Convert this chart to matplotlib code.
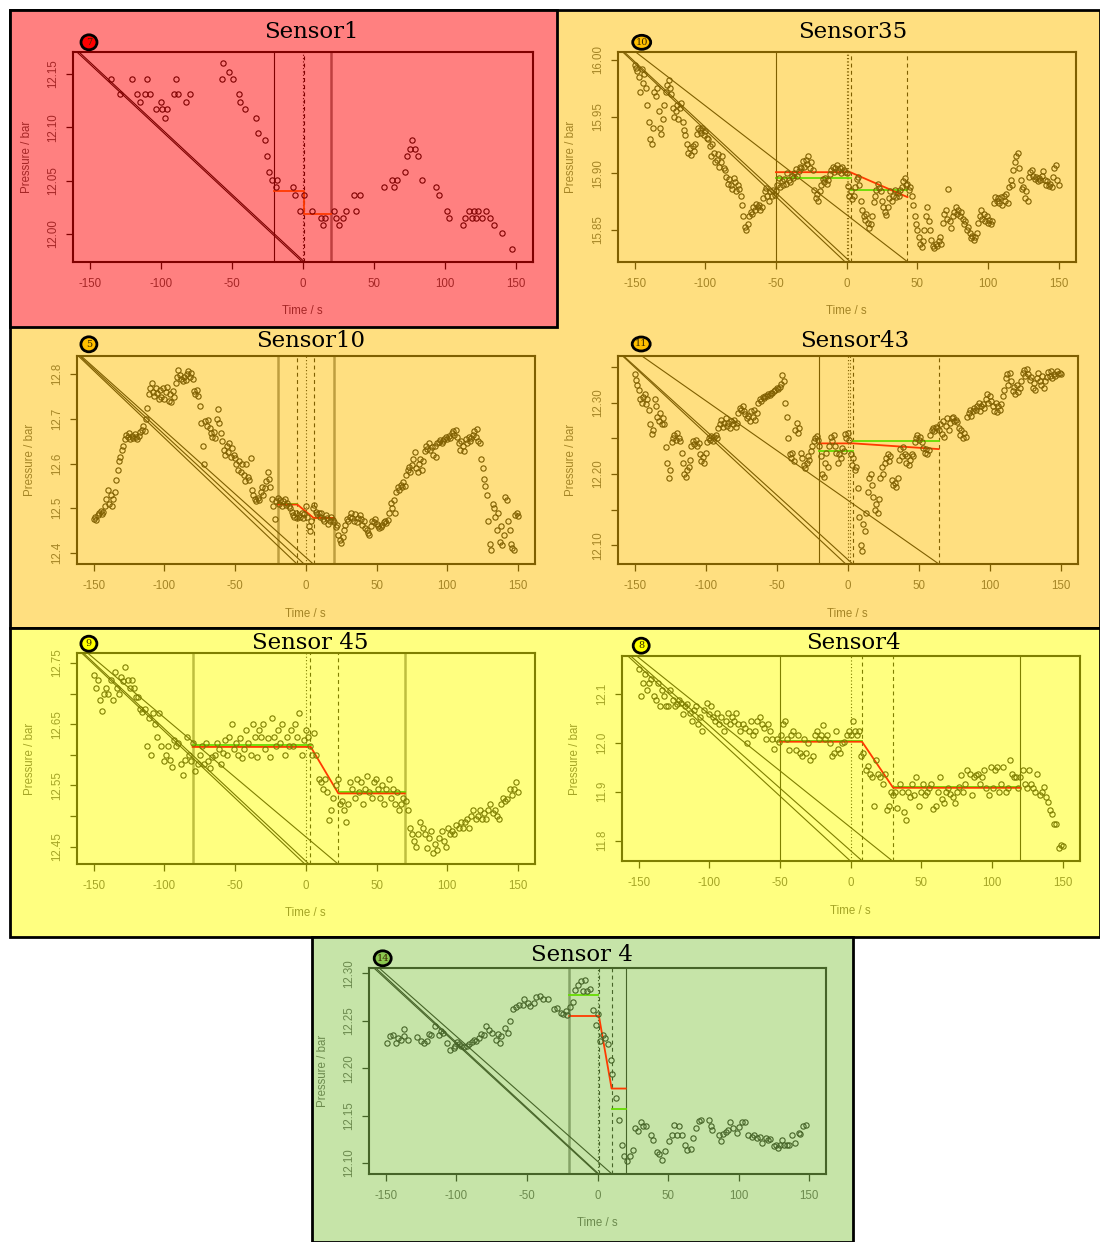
import numpy as np
import matplotlib.pyplot as plt
from matplotlib.colors import to_rgba
from matplotlib.patches import Rectangle, Ellipse

plt.rcParams['font.family'] = ['Liberation Sans', 'DejaVu Sans']

W, H = 1100, 1242
TICKS_X = [-150, -100, -50, 0, 50, 100, 150]

# ---------------- Sensor1 (station 7) ----------------
s1_t = [-135.1, -128.9, -120.2, -116.8, -114.8, -110.9, -109.9, -107.9, -103.5, -100.2,
        -99.0, -97.0, -95.8, -90.6, -89.6, -87.7, -82.0, -79.3, -57.3, -56.3,
        -51.9, -49.4, -44.9, -44.0, -40.5, -33.3, -31.9, -26.4, -24.9, -23.5,
        -21.5, -18.0, -19.0, -6.7, -5.7, 1.0, -1.7, 6.2, 13.1, 15.8,
        14.3, 21.7, 23.7, 25.2, 28.1, 30.6, 36.0, 37.5, 40.0, 57.0,
        63.0, 64.4, 66.4, 72.3, 73.3, 75.8, 76.8, 78.8, 81.2, 83.7,
        93.8, 96.3, 101.5, 103.0, 112.6, 114.6, 117.5, 119.0, 120.5, 122.0,
        123.5, 126.4, 129.4, 131.9, 135.1, 140.5, 147.4]
s1_p = [12.145, 12.131, 12.145, 12.131, 12.124, 12.131, 12.145, 12.131, 12.117, 12.124,
        12.117, 12.109, 12.117, 12.131, 12.145, 12.131, 12.124, 12.131, 12.145, 12.160,
        12.152, 12.145, 12.131, 12.124, 12.117, 12.109, 12.095, 12.088, 12.073, 12.058,
        12.051, 12.051, 12.044, 12.044, 12.037, 12.037, 12.022, 12.022, 12.015, 12.015,
        12.008, 12.022, 12.015, 12.008, 12.015, 12.022, 12.037, 12.022, 12.037, 12.044,
        12.051, 12.044, 12.051, 12.058, 12.073, 12.080, 12.088, 12.080, 12.073, 12.051,
        12.044, 12.037, 12.022, 12.015, 12.008, 12.015, 12.022, 12.015, 12.022, 12.015,
        12.022, 12.015, 12.022, 12.015, 12.008, 12.001, 11.986]
s1_marks = [(-20, 'solid'), (0, 'dot'), (1, 'dash'), (20, 'wide')]
s1_guides = [(-159.5, -0.5), (-158, 1)]
s1_red_t = [-20, 0.7, 0.7, 20]
s1_red_p = [12.040, 12.040, 12.019, 12.019]
s1_green = []

# ---------------- Sensor35 (station 10), 1 s sampling ----------------
s35_p = [15.996, 15.993, 15.990, 15.985, 15.972, 15.992, 15.980, 15.988, 15.975, 15.960,
         15.945, 15.930, 15.926, 15.940, 15.972, 15.968, 15.975, 15.955, 15.940, 15.935,
         15.948, 15.960, 15.972, 15.978, 15.982, 15.975, 15.970, 15.958, 15.950, 15.955,
         15.960, 15.948, 15.958, 15.962, 15.945, 15.938, 15.934, 15.926, 15.918, 15.922,
         15.916, 15.924, 15.920, 15.926, 15.935, 15.940, 15.938, 15.936, 15.940, 15.934,
         15.937, 15.931, 15.930, 15.924, 15.915, 15.926, 15.918, 15.910, 15.912, 15.917,
         15.906, 15.910, 15.915, 15.905, 15.903, 15.897, 15.891, 15.895, 15.890, 15.886,
         15.896, 15.892, 15.884, 15.890, 15.886, 15.880, 15.872, 15.862, 15.853, 15.850,
         15.855, 15.862, 15.866, 15.864, 15.870, 15.868, 15.873, 15.870, 15.872, 15.868,
         15.870, 15.878, 15.884, 15.887, 15.880, 15.876, 15.884, 15.880, 15.885, 15.881,
         15.884, 15.890, 15.896, 15.888, 15.893, 15.890, 15.895, 15.891, 15.900, 15.894,
         15.892, 15.898, 15.896, 15.900, 15.904, 15.898, 15.902, 15.906, 15.905, 15.911,
         15.906, 15.912, 15.908, 15.915, 15.905, 15.910, 15.903, 15.885, 15.878, 15.882,
         15.876, 15.884, 15.890, 15.895, 15.892, 15.896, 15.891, 15.894, 15.899, 15.903,
         15.906, 15.901, 15.905, 15.907, 15.902, 15.905, 15.900, 15.906, 15.903, 15.901,
         15.900, 15.889, 15.880, 15.884, 15.877, 15.880, 15.888, 15.895, 15.897, 15.890,
         15.876, 15.868, 15.862, 15.859, 15.864, 15.856, 15.852, 15.855, 15.862, 15.875,
         15.880, 15.885, 15.891, 15.887, 15.884, 15.876, 15.870, 15.866, 15.863, 15.870,
         15.878, 15.884, 15.876, 15.880, 15.885, 15.879, 15.883, 15.880, 15.885, 15.888,
         15.893, 15.896, 15.890, 15.891, 15.885, 15.888, 15.880, 15.872, 15.862, 15.855,
         15.850, 15.844, 15.838, 15.835, 15.840, 15.850, 15.862, 15.870, 15.858, 15.850,
         15.841, 15.836, 15.834, 15.838, 15.836, 15.840, 15.844, 15.838, 15.856, 15.864,
         15.868, 15.860, 15.886, 15.858, 15.852, 15.862, 15.866, 15.870, 15.864, 15.868,
         15.862, 15.866, 15.860, 15.855, 15.858, 15.850, 15.853, 15.847, 15.843, 15.845,
         15.841, 15.844, 15.847, 15.856, 15.862, 15.868, 15.860, 15.864, 15.858, 15.862,
         15.856, 15.859, 15.855, 15.858, 15.874, 15.879, 15.876, 15.878, 15.874, 15.879,
         15.872, 15.880, 15.876, 15.882, 15.874, 15.888, 15.894, 15.890, 15.903, 15.910,
         15.915, 15.918, 15.905, 15.894, 15.886, 15.888, 15.878, 15.884, 15.876, 15.897,
         15.901, 15.903, 15.898, 15.895, 15.897, 15.893, 15.896, 15.894, 15.898, 15.902,
         15.894, 15.890, 15.893, 15.889, 15.891, 15.888, 15.897, 15.905, 15.907, 15.894,
         15.890]
s35_t = np.linspace(-150, 150, len(s35_p))
s35_marks = [(-50, 'solid'), (0, 'dot'), (0.7, 'dot'), (3, 'dash'), (43, 'dash')]
s35_guides = [(-158.6, -1.2), (-157.5, 2.5), (-149.5, 43)]
s35_red_t = [-50, 2.5, 43]
s35_red_p = [15.901, 15.901, 15.879]
s35_green = [(-50, 3, 15.896), (3, 43, 15.885)]

# ---------------- Sensor10 (station 5), 1 s sampling ----------------
s10_p = [12.476, 12.480, 12.474, 12.485, 12.488, 12.494, 12.486, 12.492, 12.505, 12.520,
         12.540, 12.510, 12.530, 12.504, 12.520, 12.536, 12.562, 12.585, 12.605, 12.615,
         12.630, 12.640, 12.655, 12.665, 12.660, 12.668, 12.655, 12.662, 12.658, 12.666,
         12.660, 12.654, 12.662, 12.670, 12.676, 12.684, 12.672, 12.700, 12.725, 12.755,
         12.770, 12.780, 12.760, 12.752, 12.770, 12.758, 12.745, 12.765, 12.750, 12.770,
         12.745, 12.760, 12.772, 12.740, 12.755, 12.738, 12.762, 12.748, 12.780, 12.795,
         12.810, 12.798, 12.790, 12.785, 12.795, 12.788, 12.800, 12.808, 12.795, 12.802,
         12.790, 12.762, 12.755, 12.765, 12.752, 12.730, 12.690, 12.640, 12.600, 12.695,
         12.685, 12.698, 12.680, 12.668, 12.660, 12.670, 12.658, 12.700, 12.722, 12.690,
         12.668, 12.650, 12.630, 12.618, 12.640, 12.625, 12.645, 12.615, 12.635, 12.620,
         12.612, 12.600, 12.585, 12.605, 12.580, 12.598, 12.575, 12.560, 12.600, 12.570,
         12.562, 12.612, 12.540, 12.530, 12.520, 12.516, 12.522, 12.518, 12.535, 12.548,
         12.530, 12.545, 12.560, 12.582, 12.565, 12.548, 12.520, 12.505, 12.475, 12.515,
         12.522, 12.510, 12.518, 12.505, 12.515, 12.520, 12.508, 12.512, 12.504, 12.500,
         12.492, 12.485, 12.480, 12.490, 12.478, 12.485, 12.480, 12.490, 12.478, 12.486,
         12.505, 12.480, 12.460, 12.448, 12.470, 12.500, 12.506, 12.492, 12.486, 12.488,
         12.480, 12.490, 12.475, 12.470, 12.485, 12.478, 12.465, 12.472, 12.480, 12.474,
         12.468, 12.458, 12.462, 12.440, 12.428, 12.422, 12.435, 12.450, 12.462, 12.475,
         12.470, 12.480, 12.490, 12.478, 12.472, 12.486, 12.468, 12.478, 12.484, 12.475,
         12.462, 12.470, 12.455, 12.450, 12.444, 12.440, 12.460, 12.472, 12.468, 12.476,
         12.465, 12.460, 12.456, 12.458, 12.462, 12.468, 12.472, 12.466, 12.474, 12.490,
         12.512, 12.500, 12.518, 12.490, 12.535, 12.548, 12.540, 12.552, 12.548, 12.558,
         12.550, 12.575, 12.585, 12.592, 12.580, 12.597, 12.610, 12.625, 12.590, 12.580,
         12.598, 12.610, 12.585, 12.605, 12.628, 12.640, 12.632, 12.645, 12.630, 12.638,
         12.620, 12.640, 12.615, 12.645, 12.648, 12.652, 12.645, 12.650, 12.655, 12.660,
         12.655, 12.662, 12.658, 12.668, 12.672, 12.665, 12.674, 12.660, 12.645, 12.630,
         12.650, 12.640, 12.628, 12.655, 12.645, 12.660, 12.650, 12.658, 12.665, 12.672,
         12.660, 12.678, 12.650, 12.645, 12.610, 12.590, 12.565, 12.550, 12.530, 12.470,
         12.420, 12.405, 12.510, 12.500, 12.480, 12.450, 12.490, 12.425, 12.460, 12.418,
         12.440, 12.525, 12.518, 12.470, 12.450, 12.420, 12.410, 12.405, 12.485, 12.490,
         12.482]
s10_t = np.linspace(-150, 150, len(s10_p))
s10_marks = [(-20, 'wide'), (-6, 'dash'), (0, 'dot'), (5.5, 'dash'), (20, 'wide')]
s10_guides = [(-161, -6), (-160, -1), (-159, 5.5)]
s10_red_t = [-20, -6, 5.5, 20]
s10_red_p = [12.508, 12.508, 12.478, 12.478]
s10_green = [(-20, -6, 12.509), (5.5, 20, 12.477)]

# ---------------- Sensor43 (station 11), 1 s sampling ----------------
s43_p = [12.340, 12.332, 12.325, 12.318, 12.305, 12.300, 12.308, 12.312, 12.298, 12.305,
         12.290, 12.270, 12.256, 12.262, 12.305, 12.295, 12.280, 12.275, 12.285, 12.270,
         12.278, 12.270, 12.238, 12.215, 12.195, 12.205, 12.245, 12.250, 12.255, 12.248,
         12.258, 12.250, 12.246, 12.230, 12.215, 12.200, 12.196, 12.205, 12.210, 12.220,
         12.240, 12.246, 12.242, 12.248, 12.240, 12.244, 12.228, 12.218, 12.224, 12.215,
         12.230, 12.245, 12.250, 12.248, 12.254, 12.246, 12.252, 12.255, 12.250, 12.265,
         12.270, 12.276, 12.266, 12.272, 12.278, 12.268, 12.272, 12.265, 12.275, 12.270,
         12.276, 12.266, 12.272, 12.285, 12.292, 12.290, 12.296, 12.288, 12.284, 12.278,
         12.282, 12.275, 12.288, 12.280, 12.290, 12.276, 12.285, 12.300, 12.305, 12.303,
         12.308, 12.306, 12.310, 12.309, 12.312, 12.311, 12.314, 12.313, 12.316, 12.318,
         12.320, 12.319, 12.322, 12.326, 12.339, 12.330, 12.300, 12.280, 12.250, 12.228,
         12.222, 12.230, 12.218, 12.262, 12.272, 12.258, 12.265, 12.230, 12.222, 12.212,
         12.208, 12.215, 12.225, 12.220, 12.232, 12.240, 12.246, 12.250, 12.254, 12.248,
         12.240, 12.225, 12.200, 12.196, 12.215, 12.230, 12.210, 12.240, 12.252, 12.246,
         12.255, 12.240, 12.230, 12.215, 12.228, 12.222, 12.236, 12.232, 12.256, 12.250,
         12.258, 12.248, 12.228, 12.212, 12.222, 12.205, 12.210, 12.180, 12.140, 12.100,
         12.092, 12.130, 12.120, 12.145, 12.175, 12.195, 12.200, 12.185, 12.168, 12.150,
         12.158, 12.145, 12.165, 12.195, 12.210, 12.200, 12.215, 12.222, 12.228, 12.218,
         12.226, 12.192, 12.185, 12.188, 12.182, 12.194, 12.220, 12.235, 12.225, 12.238,
         12.228, 12.215, 12.225, 12.212, 12.220, 12.228, 12.226, 12.245, 12.250, 12.255,
         12.248, 12.252, 12.245, 12.236, 12.230, 12.235, 12.228, 12.234, 12.255, 12.262,
         12.264, 12.260, 12.266, 12.265, 12.262, 12.270, 12.256, 12.275, 12.252, 12.268,
         12.278, 12.262, 12.272, 12.278, 12.280, 12.275, 12.276, 12.273, 12.265, 12.255,
         12.262, 12.250, 12.258, 12.252, 12.280, 12.285, 12.290, 12.282, 12.288, 12.292,
         12.290, 12.296, 12.300, 12.288, 12.295, 12.298, 12.292, 12.305, 12.312, 12.300,
         12.310, 12.302, 12.295, 12.288, 12.300, 12.287, 12.295, 12.290, 12.298, 12.310,
         12.318, 12.335, 12.340, 12.325, 12.342, 12.330, 12.316, 12.322, 12.312, 12.325,
         12.315, 12.320, 12.330, 12.342, 12.346, 12.338, 12.348, 12.340, 12.332, 12.336,
         12.320, 12.328, 12.318, 12.335, 12.342, 12.330, 12.325, 12.338, 12.320, 12.330,
         12.336, 12.343, 12.338, 12.345, 12.335, 12.340, 12.338, 12.344, 12.340, 12.342,
         12.340]
s43_t = np.linspace(-150, 150, len(s43_p))
s43_marks = [(-20, 'solid'), (0, 'dot'), (1.5, 'dot'), (4, 'dash'), (64, 'dash')]
s43_guides = [(-158.7, -1.2), (-158, 3.7), (-145.2, 64.4)]
s43_red_t = [-20, 4, 64]
s43_red_p = [12.243, 12.243, 12.235]
s43_green = [(-20, 4, 12.232), (4, 64, 12.2467)]

# ---------------- Sensor 45 (station 9), 1.5 s sampling ----------------
s45_p = [12.730, 12.710, 12.722, 12.690, 12.672, 12.700, 12.710, 12.700,
         12.722, 12.690, 12.735, 12.710, 12.700, 12.728, 12.720, 12.744, 12.722, 12.710,
         12.722, 12.709, 12.695, 12.695, 12.675, 12.670, 12.675,
         12.615, 12.660, 12.600, 12.668, 12.650, 12.630, 12.668, 12.615, 12.590,
         12.600, 12.615, 12.592, 12.580, 12.625, 12.615, 12.620, 12.585, 12.567, 12.592,
         12.630, 12.600, 12.590, 12.620, 12.573, 12.585, 12.600, 12.615, 12.585, 12.620,
         12.590, 12.578, 12.596, 12.600, 12.620, 12.610, 12.585, 12.603, 12.625, 12.600,
         12.630, 12.650, 12.610, 12.620, 12.600, 12.628, 12.595, 12.610, 12.640, 12.620,
         12.600, 12.650, 12.630, 12.596, 12.640, 12.630, 12.650, 12.610, 12.628, 12.596,
         12.660, 12.630, 12.615, 12.640, 12.620, 12.650, 12.600, 12.630, 12.615, 12.640,
         12.615, 12.650, 12.630, 12.668, 12.600, 12.625, 12.640, 12.630, 12.615, 12.600,
         12.635, 12.600, 12.560, 12.555, 12.545, 12.560, 12.540, 12.493, 12.510, 12.530,
         12.550, 12.560, 12.520, 12.525, 12.510, 12.490, 12.520, 12.555, 12.545, 12.530,
         12.560, 12.540, 12.555, 12.520, 12.545, 12.565, 12.540, 12.530, 12.555, 12.560,
         12.545, 12.530, 12.550, 12.520, 12.545, 12.560, 12.530, 12.545, 12.520, 12.540,
         12.510, 12.520, 12.530, 12.525, 12.510, 12.480, 12.470, 12.460, 12.450, 12.470,
         12.490, 12.480, 12.470, 12.448, 12.465, 12.475, 12.440, 12.455, 12.445, 12.465,
         12.475, 12.460, 12.450, 12.480, 12.470, 12.475, 12.470, 12.485, 12.480, 12.490,
         12.480, 12.490, 12.495, 12.480, 12.500, 12.510, 12.495, 12.500, 12.510, 12.496,
         12.505, 12.496, 12.510, 12.520, 12.505, 12.510, 12.500, 12.496, 12.520, 12.530,
         12.525, 12.528, 12.545, 12.535, 12.545, 12.555, 12.540]
s45_t = np.linspace(-150, 150, len(s45_p))
s45_marks = [(-80, 'wide'), (0, 'dot'), (3, 'dash'), (23, 'dash'), (70, 'wide')]
s45_guides = [(-158.2, -0.7), (-157, 2.2), (-154, 22.8)]
s45_red_t = [-80, 3.5, 23, 70]
s45_red_p = [12.613, 12.613, 12.537, 12.537]
s45_green = [(-80, 3.5, 12.616), (23, 70, 12.540)]

# ---------------- Sensor4 (station 8), 1.5 s sampling ----------------
s4_p = [12.150, 12.095, 12.122, 12.140, 12.108, 12.122, 12.130, 12.095,
        12.088, 12.122, 12.074, 12.108, 12.095, 12.074, 12.074, 12.108, 12.088, 12.074,
        12.080, 12.088, 12.081, 12.058, 12.074, 12.080, 12.060,
        12.045, 12.066, 12.074, 12.038, 12.052, 12.023, 12.066, 12.081, 12.058,
        12.074, 12.052, 12.045, 12.060, 12.038, 12.052, 12.023, 12.045, 12.060, 12.038,
        12.052, 12.045, 12.060, 12.038, 12.023, 12.038, 12.030, 12.000, 12.023, 12.045,
        12.015, 12.023, 12.045, 12.052, 12.038, 12.030, 12.008, 12.038, 12.023, 12.008,
        11.987, 12.008, 12.001, 12.015, 12.038, 12.045, 12.008, 11.985, 12.015, 12.023,
        11.985, 12.015, 11.980, 11.972, 12.008, 11.980, 12.000, 11.965, 11.972, 12.015,
        12.023, 12.008, 12.015, 12.037, 12.008, 12.015, 12.000, 11.972, 11.980, 12.023,
        11.987, 11.980, 12.000, 12.001, 12.015, 12.023, 12.015, 12.045, 12.023, 12.015,
        12.023, 11.972, 11.980, 11.945, 11.952, 11.937, 11.930, 11.870, 11.965, 11.937,
        11.930, 11.915, 11.937, 11.863, 11.870, 11.900, 11.893, 11.900, 11.866, 11.915,
        11.900, 11.858, 11.843, 11.900, 11.890, 11.915, 11.893, 11.930, 11.870, 11.900,
        11.915, 11.893, 11.900, 11.908, 11.915, 11.865, 11.870, 11.900, 11.930, 11.885,
        11.878, 11.900, 11.908, 11.895, 11.890, 11.878, 11.900, 11.910, 11.935, 11.900,
        11.915, 11.945, 11.937, 11.893, 11.930, 11.935, 11.937, 11.915, 11.930, 11.945,
        11.908, 11.893, 11.950, 11.908, 11.945, 11.950, 11.900, 11.915, 11.950, 11.900,
        11.908, 11.965, 11.937, 11.930, 11.930, 11.907, 11.930, 11.945, 11.915, 11.908,
        11.945, 11.915, 11.908, 11.900, 11.937, 11.893, 11.900, 11.910, 11.890, 11.880,
        11.862, 11.855, 11.835, 11.835, 11.785, 11.792, 11.790]
s4_t = np.linspace(-150, 150, len(s4_p))
s4_marks = [(-50, 'solid'), (0, 'dot'), (8, 'dash'), (30, 'dash'), (120, 'solid')]
s4_guides = [(-157.9, 0), (-155.9, 8.4), (-151.7, 29.8)]
s4_red_t = [-50, 8, 30, 120]
s4_red_p = [12.002, 12.002, 11.908, 11.908]
s4_green = [(-50, 8, 12.004), (30, 120, 11.910)]

# ---------------- Sensor 4 (station 14) ----------------
s14_t = [-149.0, -147.3, -144.9, -142.9, -141.2, -139.3, -136.9, -137.5, -134.3, -127.7,
         -125.3, -122.8, -121.1, -119.6, -117.9, -115.5, -112.3, -111.3, -109.4, -106.9,
         -104.5, -102.0, -100.8, -99.6, -98.3, -96.6, -94.7, -92.7, -91.0, -89.3,
         -87.3, -86.1, -83.7, -82.5, -80.5, -78.8, -77.1, -75.1, -72.2, -70.2,
         -69.0, -68.3, -65.3, -63.6, -62.2, -59.7, -58.0, -55.6, -53.1, -51.9,
         -49.4, -48.2, -45.0, -43.3, -40.9, -38.4, -34.8, -31.1, -28.6, -26.2,
         -24.2, -22.5, -21.3, -19.3, -17.6, -15.9, -13.9, -12.0, -9.1, -10.3,
         -7.3, -5.4, -3.4, -1.2, 0.2, 1.5, 3.9, 5.1, 7.3, 9.3,
         10.5, 13.0, 14.9, 17.1, 18.8, 20.8, 22.7, 25.2, 26.9, 28.9,
         30.6, 32.5, 34.5, 37.9, 39.4, 42.3, 43.8, 45.5, 47.7, 50.9,
         52.8, 54.1, 56.5, 57.5, 59.9, 61.9, 63.8, 66.3, 68.0, 69.7,
         71.7, 73.7, 79.0, 80.3, 81.5, 85.9, 87.6, 88.8, 90.8, 92.5,
         94.2, 96.2, 98.6, 100.5, 102.5, 104.7, 106.4, 109.6, 110.8, 113.3,
         115.0, 116.9, 119.4, 121.1, 122.6, 124.8, 126.7, 128.0, 129.7, 130.9,
         132.1, 134.1, 135.8, 138.2, 139.7, 142.6, 143.9, 145.6, 147.5]
s14_p = [12.227, 12.234, 12.235, 12.226, 12.232, 12.230, 12.241, 12.234, 12.230, 12.233,
         12.229, 12.227, 12.229, 12.236, 12.235, 12.244, 12.235, 12.239, 12.237, 12.227,
         12.219, 12.221, 12.223, 12.228, 12.225, 12.223, 12.222, 12.223, 12.225, 12.228,
         12.230, 12.229, 12.232, 12.236, 12.235, 12.244, 12.240, 12.237, 12.230, 12.236,
         12.226, 12.234, 12.242, 12.237, 12.250, 12.262, 12.265, 12.267, 12.267, 12.273,
         12.269, 12.266, 12.269, 12.275, 12.276, 12.273, 12.273, 12.262, 12.263, 12.258,
         12.257, 12.260, 12.256, 12.265, 12.270, 12.282, 12.288, 12.292, 12.293, 12.281,
         12.281, 12.283, 12.261, 12.246, 12.257, 12.229, 12.235, 12.232, 12.225, 12.209,
         12.194, 12.169, 12.145, 12.119, 12.107, 12.102, 12.107, 12.114, 12.137, 12.134,
         12.143, 12.139, 12.139, 12.130, 12.124, 12.112, 12.110, 12.103, 12.113, 12.123,
         12.129, 12.140, 12.129, 12.139, 12.129, 12.119, 12.114, 12.115, 12.126, 12.137,
         12.144, 12.145, 12.145, 12.139, 12.135, 12.130, 12.123, 12.131, 12.133, 12.135,
         12.143, 12.137, 12.132, 12.138, 12.143, 12.143, 12.130, 12.127, 12.129, 12.126,
         12.127, 12.121, 12.126, 12.124, 12.125, 12.118, 12.119, 12.116, 12.119, 12.124,
         12.119, 12.119, 12.119, 12.129, 12.121, 12.132, 12.131, 12.139, 12.140]
s14_marks = [(-20, 'wide'), (0, 'dot'), (1, 'dash'), (10, 'dash'), (20, 'solid')]
s14_guides = [(-158.3, 0), (-157, 0.7), (-154.6, 10)]
s14_red_t = [-20, 1, 10, 20]
s14_red_p = [12.255, 12.255, 12.1785, 12.1785]
s14_green = [(-20, 0, 12.277), (10, 20, 12.157)]

# line styles for the vertical event markers
MARK_STYLE = {
    'solid': dict(lw=0.8),
    'wide': dict(lw=1.8, alpha=0.5),
    'dash': dict(lw=0.8, ls=(0, (3.5, 3))),
    'dot': dict(lw=0.8, ls=(0, (1, 2))),
}

RED = '#FF3A00'
GREEN = '#66DD00'

panels = [
    dict(title='Sensor1', no='7', badge='#FF0000', fg='#7F0000',
         t=s1_t, p=s1_p, marks=s1_marks, guides=s1_guides,
         red_t=s1_red_t, red_p=s1_red_p, green=s1_green,
         ylim=(11.974, 12.171), yticks=[12.00, 12.05, 12.10, 12.15],
         ylabels=['12.00', '12.05', '12.10', '12.15'],
         box=(73, 51.7, 532.6, 261.7), tpos=(311, 31.5), bpos=(89, 42.3, 16, 15)),
    dict(title='Sensor35', no='10', badge='#FFBF00', fg='#7F5F00',
         t=s35_t, p=s35_p, marks=s35_marks, guides=s35_guides,
         red_t=s35_red_t, red_p=s35_red_p, green=s35_green,
         ylim=(15.822, 16.0073), yticks=[15.85, 15.90, 15.95, 16.00],
         ylabels=['15.85', '15.90', '15.95', '16.00'],
         box=(617.6, 51.7, 1075.7, 261.7), tpos=(852.5, 31.5), bpos=(641.7, 42.3, 18, 14)),
    dict(title='Sensor10', no='5', badge='#FFBF00', fg='#7F5F00',
         t=s10_t, p=s10_p, marks=s10_marks, guides=s10_guides,
         red_t=s10_red_t, red_p=s10_red_p, green=s10_green,
         ylim=(12.374, 12.8417), yticks=[12.4, 12.5, 12.6, 12.7, 12.8],
         ylabels=['12.4', '12.5', '12.6', '12.7', '12.8'],
         box=(76.6, 355.7, 535, 564.3), tpos=(310.8, 340.7), bpos=(88.9, 344.3, 16, 15)),
    dict(title='Sensor43', no='11', badge='#FFBF00', fg='#7F5F00',
         t=s43_t, p=s43_p, marks=s43_marks, guides=s43_guides,
         red_t=s43_red_t, red_p=s43_red_p, green=s43_green,
         ylim=(12.0734, 12.366), yticks=[12.10, 12.15, 12.20, 12.25, 12.30, 12.35],
         ylabels=['12.10', '', '12.20', '', '12.30', ''],
         box=(617.6, 355.7, 1078, 564.3), tpos=(854.4, 340.7), bpos=(641.2, 344, 18, 14)),
    dict(title='Sensor 45', no='9', badge='#FFFF00', fg='#7F7F00',
         t=s45_t, p=s45_p, marks=s45_marks, guides=s45_guides,
         red_t=s45_red_t, red_p=s45_red_p, green=s45_green,
         ylim=(12.4217, 12.766), yticks=[12.45, 12.50, 12.55, 12.60, 12.65, 12.70, 12.75],
         ylabels=['12.45', '', '12.55', '', '12.65', '', '12.75'],
         box=(76.6, 653.3, 535, 864), tpos=(310, 643), bpos=(88.9, 643.7, 16, 15)),
    dict(title='Sensor4', no='8', badge='#FFFF00', fg='#7F7F00',
         t=s4_t, p=s4_p, marks=s4_marks, guides=s4_guides,
         red_t=s4_red_t, red_p=s4_red_p, green=s4_green,
         ylim=(11.758, 12.1776), yticks=[11.8, 11.9, 12.0, 12.1],
         ylabels=['11.8', '11.9', '12.0', '12.1'],
         box=(621.7, 655.7, 1079.8, 861.3), tpos=(853, 643), bpos=(641.2, 645.7, 16, 15)),
    dict(title='Sensor 4', no='14', badge='#8CC850', fg='#466428',
         t=s14_t, p=s14_p, marks=s14_marks, guides=s14_guides,
         red_t=s14_red_t, red_p=s14_red_p, green=s14_green,
         ylim=(12.0887, 12.3053), yticks=[12.10, 12.15, 12.20, 12.25, 12.30],
         ylabels=['12.10', '12.15', '12.20', '12.25', '12.30'],
         box=(369, 968.3, 826, 1173.7), tpos=(582, 955.3), bpos=(382.7, 958.3, 17, 15)),
]

fig = plt.figure(figsize=(W / 100, H / 100), dpi=100)
fig.patch.set_facecolor('white')


def fx(x):
    return x / W


def fy(y):
    return 1 - y / H


# coloured background blocks behind each group of sensors
blocks = [
    (10, 10, 1100, 628, '#FFDF80'),
    (10, 628, 1100, 937, '#FFFF80'),
    (312, 937, 853, 1242, '#C6E4A8'),
    (10, 10, 557, 327, '#FF8080'),
]
for x0, y0, x1, y1, c in blocks:
    fig.add_artist(Rectangle((fx(x0), fy(y1)), (x1 - x0) / W, (y1 - y0) / H,
                             transform=fig.transFigure, facecolor=c,
                             edgecolor='black', lw=2, zorder=0))


def draw_panel(cfg):
    x0, y0, x1, y1 = cfg['box']
    ax = fig.add_axes([fx(x0), fy(y1), (x1 - x0) / W, (y1 - y0) / H])
    ax.set_facecolor('none')
    fg = cfg['fg']
    soft = to_rgba(fg, 0.7)
    lo, hi = cfg['ylim']
    ax.set_xlim(-162, 162)
    ax.set_ylim(lo, hi)

    for a, b in cfg['guides']:
        ax.plot([a, b], [hi, lo], color=fg, lw=0.8)
    for x, kind in cfg['marks']:
        ax.axvline(x, color=fg, **MARK_STYLE[kind])
    for a, b, v in cfg['green']:
        ax.plot([a, b], [v, v], color=GREEN, lw=1.3)
    ax.plot(cfg['red_t'], cfg['red_p'], color=RED, lw=1.3)
    ax.plot(cfg['t'], cfg['p'], 'o', ms=3.8, mfc='none', mec=fg, mew=0.8)

    for s in ax.spines.values():
        s.set_color(fg)
        s.set_linewidth(1.5)
    ax.set_xticks(TICKS_X)
    ax.set_xticklabels([str(v) for v in TICKS_X])
    ax.set_yticks(cfg['yticks'])
    ax.set_yticklabels(cfg['ylabels'], rotation=90, va='center')
    ax.tick_params(direction='out', length=5, width=0.9, color=fg,
                   labelcolor=soft, labelsize=8.3)
    ax.tick_params(axis='x', pad=6.5)
    ax.tick_params(axis='y', pad=5)

    hpx = y1 - y0
    wpx = x1 - x0
    ax.text(0.5, -49.3 / hpx, 'Time / s', transform=ax.transAxes,
            ha='center', va='center', fontsize=8.3, color=soft)
    ax.text(-46.5 / wpx, 0.5, 'Pressure / bar', transform=ax.transAxes,
            ha='center', va='center', rotation=90, fontsize=8.3, color=soft)

    tx, ty = cfg['tpos']
    fig.text(fx(tx), fy(ty), cfg['title'], ha='center', va='center',
             fontsize=16.5, family='DejaVu Serif', color='black')

    bx, by, bw, bh = cfg['bpos']
    fig.add_artist(Ellipse((fx(bx), fy(by)), bw / W, bh / H,
                           transform=fig.transFigure, facecolor=cfg['badge'],
                           edgecolor='black', lw=2, zorder=5))
    fig.text(fx(bx), fy(by), cfg['no'], ha='center', va='center', fontsize=7,
             family='DejaVu Serif', color='#3a2a00', zorder=6)


for cfg in panels:
    draw_panel(cfg)

fig.savefig('out.png', dpi=100)
